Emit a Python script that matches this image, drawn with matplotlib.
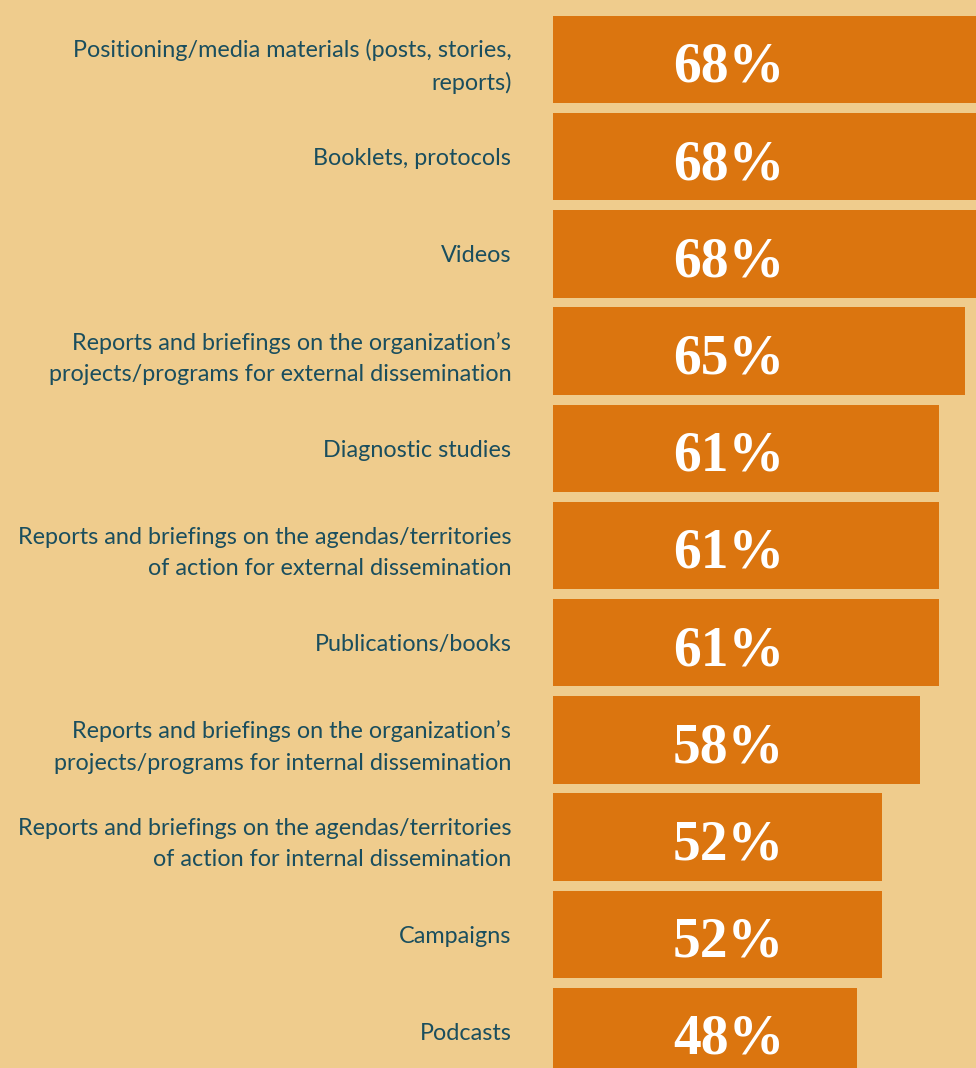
import matplotlib.pyplot as plt

# survey results: share of organizations producing each type of material
categories = [
    "Positioning/media materials (posts, stories,\nreports)",
    "Booklets, protocols",
    "Videos",
    "Reports and briefings on the organization\u2019s\nprojects/programs for external dissemination",
    "Diagnostic studies",
    "Reports and briefings on the agendas/territories\nof action for external dissemination",
    "Publications/books",
    "Reports and briefings on the organization\u2019s\nprojects/programs for internal dissemination",
    "Reports and briefings on the agendas/territories\nof action for internal dissemination",
    "Campaigns",
    "Podcasts",
]
values = [68, 68, 68, 65, 61, 61, 61, 58, 52, 52, 48]

bg = "#EFCC8D"
bar_color = "#DB750F"
text_color = "#1A4E5E"

fig = plt.figure(figsize=(9.76, 10.68), dpi=100, facecolor=bg)
ax = fig.add_axes([553 / 976, 0, 1 - 553 / 976, 1])
ax.set_facecolor(bg)

y = list(range(len(values)))
ax.barh(y, values, height=0.9, color=bar_color)

for yi, v in zip(y, values):
    ax.text(27.7, yi + 0.23, f"{v}%", ha="center", va="baseline",
            color="white", fontsize=40, fontweight="bold", family="Liberation Serif")

ax.set_xlim(0, 66.8)
ax.set_ylim(10.375, -0.612)
ax.set_yticks(y)
ax.set_yticklabels(categories, fontsize=16.8, color=text_color, family="Lato",
                   linespacing=1.6)
ax.tick_params(axis="y", length=0, pad=30)
ax.set_xticks([])
for s in ax.spines.values():
    s.set_visible(False)

fig.savefig("out.png", dpi=100, facecolor=bg)
